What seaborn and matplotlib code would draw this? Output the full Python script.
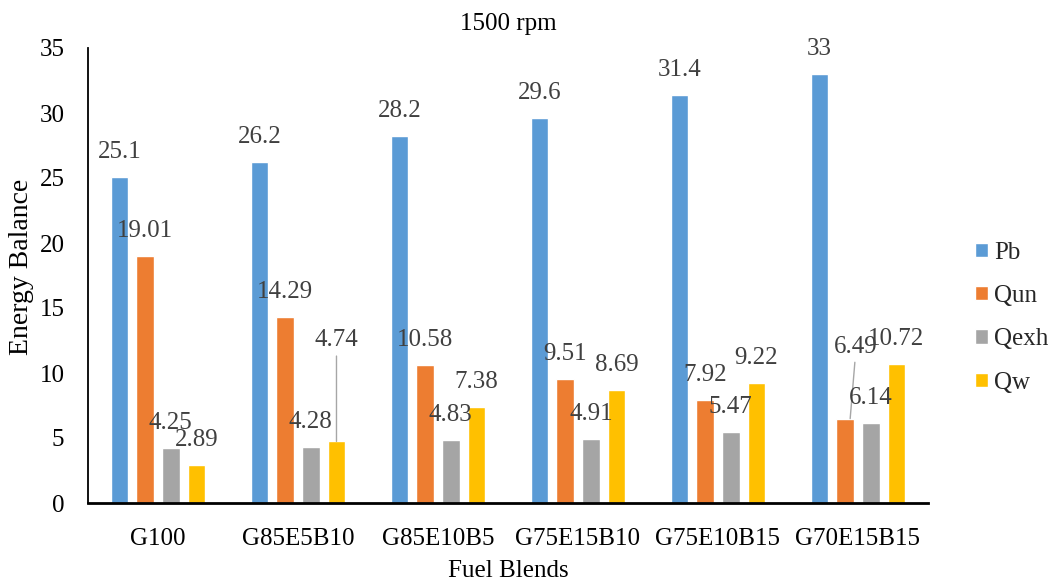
import matplotlib
matplotlib.use("Agg")
import matplotlib.pyplot as plt
import seaborn as sns
import pandas as pd

# ---- data ----
blends = ["G100", "G85E5B10", "G85E10B5", "G75E15B10", "G75E10B15", "G70E15B15"]
series = ["Pb", "Qun", "Qexh", "Qw"]
pb = [25.1, 26.2, 28.2, 29.6, 31.4, 33]
qun = [19.01, 14.29, 10.58, 9.51, 7.92, 6.49]
qexh = [4.25, 4.28, 4.83, 4.91, 5.47, 6.14]
qw = [2.89, 4.74, 7.38, 8.69, 9.22, 10.72]
yticks = [0, 5, 10, 15, 20, 25, 30, 35]

colors = ["#5B9BD5", "#ED7D31", "#A5A5A5", "#FFC000"]

values = {"Pb": pb, "Qun": qun, "Qexh": qexh, "Qw": qw}
rows = []
for s in series:
    for b, v in zip(blends, values[s]):
        rows.append({"Blend": b, "Series": s, "Value": v})
df = pd.DataFrame(rows)

sns.set_theme(style="white")
plt.rcParams["font.family"] = ["Liberation Serif", "DejaVu Serif"]

FS = 18
W, H = 1052, 584
fig = plt.figure(figsize=(W / 100, H / 100), dpi=100)
ax = fig.add_axes([88 / W, 1 - 503 / H, 840 / W, 455 / H])

sns.barplot(data=df, x="Blend", y="Value", hue="Series", order=blends,
            hue_order=series, palette=colors, width=0.733, gap=0.3,
            errorbar=None, saturation=1, ax=ax)

ax.set_ylim(0, 35)
ax.set_yticks(yticks)
ax.tick_params(axis="both", length=0, labelsize=FS, colors="black")
ax.tick_params(axis="y", pad=17)
ax.tick_params(axis="x", pad=18)

for side in ["top", "right"]:
    ax.spines[side].set_visible(False)
ax.spines["left"].set_color("black")
ax.spines["left"].set_linewidth(1.3)
ax.spines["bottom"].set_color("black")
ax.spines["bottom"].set_linewidth(2)

ax.set_title("1500 rpm", fontsize=FS, pad=13, color="black")
ax.set_xlabel("Fuel Blends", fontsize=FS, color="black")
ax.set_ylabel("Energy Balance", fontsize=20, color="black")
ax.xaxis.set_label_coords(0.5, (503 - 560) / 455)
ax.yaxis.set_label_coords((34 - 88) / 840, 0.52)

# labels moved off their bars, with leader lines (offset in pixels)
moved = {("G85E5B10", "Qw"): (0, 101), ("G70E15B15", "Qun"): (6, 72)}

for cont, s in zip(ax.containers, series):
    for patch, b, v in zip(cont, blends, values[s]):
        x = patch.get_x() + patch.get_width() / 2
        h = patch.get_height()
        txt = f"{v:g}"
        if (b, s) in moved:
            dx, dy = moved[(b, s)]
            ax.annotate(txt, xy=(x + (5 / 140 if dx else 0), h), xytext=(dx, dy),
                        textcoords="offset pixels", ha="center", va="center",
                        fontsize=FS, color="#404040",
                        arrowprops=dict(arrowstyle="-", color="#A6A6A6", lw=1,
                                        shrinkA=1, shrinkB=0))
        else:
            ax.annotate(txt, xy=(x, h), xytext=(0, 25), textcoords="offset pixels",
                        ha="center", va="center", fontsize=FS, color="#404040")

handles, labels = ax.get_legend_handles_labels()
if ax.get_legend() is not None:
    ax.get_legend().remove()
ax.legend(handles, labels, loc="center left", bbox_to_anchor=((975 - 88) / 840, 0.407),
          frameon=False, fontsize=FS, handlelength=0.5, handleheight=0.5,
          handletextpad=0.25, labelspacing=0.85, borderpad=0, borderaxespad=0)

fig.savefig("out.png", dpi=100)
